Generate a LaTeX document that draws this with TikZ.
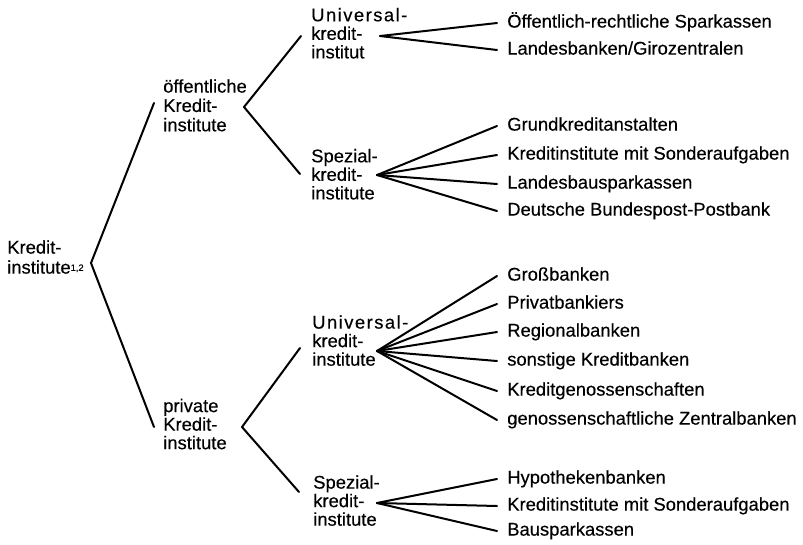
\documentclass[tikz,border=0pt]{standalone}
\usepackage{fontspec}
\setmainfont[FakeBold=0.3]{Liberation Sans}
\newfontfamily\spacedfont[LetterSpace=8,FakeBold=0.3]{Liberation Sans}
\begin{document}
\begin{tikzpicture}[x=0.75pt,y=-0.75pt,
  every node/.style={font=\fontsize{13.8pt}{13.9pt}\selectfont},
  lbl/.style={align=left, anchor=north west, inner sep=0pt},
  leaf/.style={anchor=west, inner xsep=7.5pt, inner ysep=0pt, text height=10.3pt, text depth=3.4pt},
  ray/.style={line width=1.5pt, line cap=round, line join=round}]
\useasboundingbox (0,0) rectangle (803,544);
% labels
\node[lbl, font=\fontsize{13.8pt}{15pt}\selectfont] (root) at (7,240)
  {Kredit-\\institute{\fontsize{7pt}{8pt}\selectfont\raisebox{2pt}{1,2}}};
\node[lbl, font=\fontsize{13.8pt}{14.5pt}\selectfont] (oeff) at (163,79) {öffentliche\\Kredit-\\institute};
\node[lbl] (priv) at (163,398.5) {private\\Kredit-\\institute};
\node[lbl] (u1) at (311,7.7) {{\spacedfont Universal-}\\kredit-\\institut};
\node[lbl] (s1) at (311,148.7) {Spezial-\\kredit-\\institute};
\node[lbl] (u2) at (312,315) {{\spacedfont Universal-}\\kredit-\\institute};
\node[lbl] (s2) at (313,475) {Spezial-\\kredit-\\institute};
% leaves
\node[leaf] (l1) at (497,23) {Öffentlich-rechtliche Sparkassen};
\node[leaf] (l2) at (497,50) {Landesbanken/Girozentralen};
\node[leaf] (l3) at (497,126) {Grundkreditanstalten};
\node[leaf] (l4) at (497,155) {Kreditinstitute mit Sonderaufgaben};
\node[leaf] (l5) at (497,184) {Landesbausparkassen};
\node[leaf] (l6) at (497,211) {Deutsche Bundespost-Postbank};
\node[leaf] (l7) at (497,276) {Großbanken};
\node[leaf] (l8) at (497,304) {Privatbankiers};
\node[leaf] (l9) at (497,332) {Regionalbanken};
\node[leaf] (l10) at (497,361) {sonstige Kreditbanken};
\node[leaf] (l11) at (497,391) {Kreditgenossenschaften};
\node[leaf] (l12) at (497,420) {genossenschaftliche Zentralbanken};
\node[leaf] (l13) at (497,479) {Hypothekenbanken};
\node[leaf] (l14) at (497,506) {Kreditinstitute mit Sonderaufgaben};
\node[leaf] (l15) at (497,531) {Bausparkassen};
% branch points and ray ends
\coordinate (rt) at (91,263);
\coordinate (re1) at (154,103);
\coordinate (re2) at (154,427);
\coordinate (ot) at (244,107);
\coordinate (oe1) at (301,36);
\coordinate (oe2) at (300,174);
\coordinate (pt) at (242,427);
\coordinate (pe1) at (300,348);
\coordinate (pe2) at (299,492);
\coordinate (u1t) at (380,36);
\coordinate (s1t) at (377,175);
\coordinate (u2t) at (377,351);
\coordinate (s2t) at (377,503);
% rays
\draw[ray] (re1) -- (rt) -- (re2);
\draw[ray] (oe1) -- (ot) -- (oe2);
\draw[ray] (pe1) -- (pt) -- (pe2);
\foreach \l in {l1,l2} \draw[ray] (u1t) -- (\l.west);
\foreach \l in {l3,l4,l5,l6} \draw[ray] (s1t) -- (\l.west);
\foreach \l in {l7,l8,l9,l10,l11,l12} \draw[ray] (u2t) -- (\l.west);
\foreach \l in {l13,l14,l15} \draw[ray] (s2t) -- (\l.west);
\end{tikzpicture}
\end{document}
